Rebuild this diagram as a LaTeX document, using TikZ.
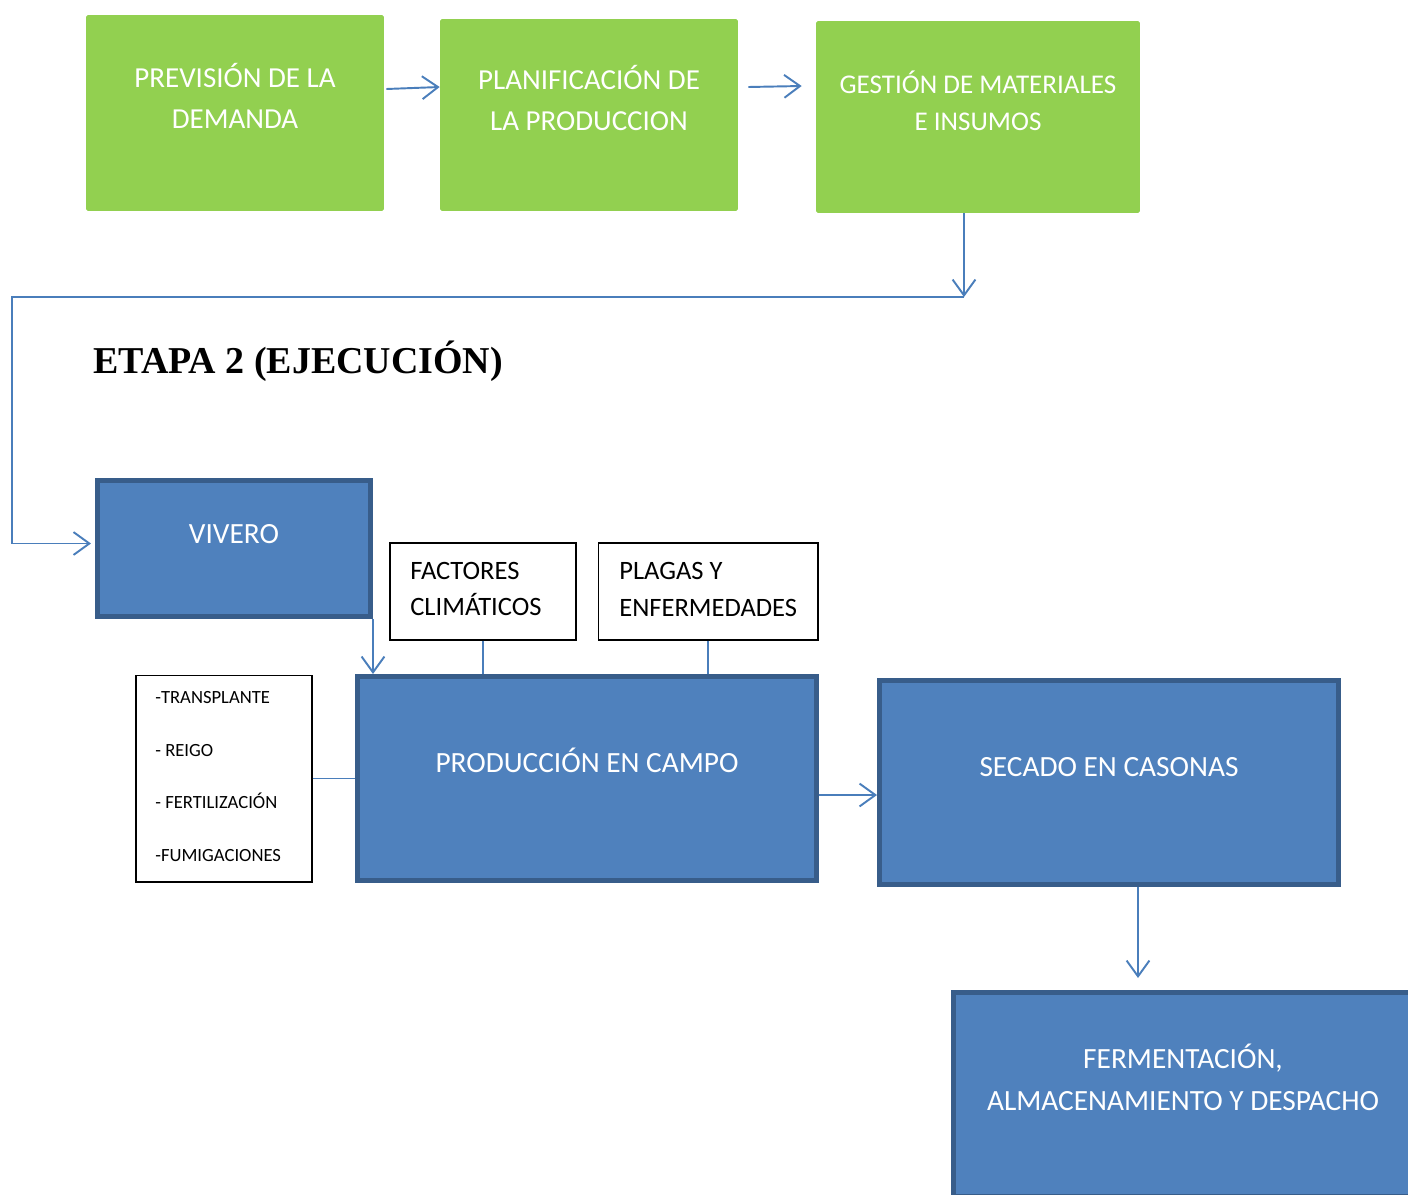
\documentclass[tikz,border=0pt]{standalone}
\usepackage{fontspec}
\setmainfont{Carlito}
\newfontfamily\titlefont{Liberation Serif}
\usetikzlibrary{arrows.meta, positioning, calc}
\definecolor{hojaverde}{HTML}{92D050}
\definecolor{azulcaja}{HTML}{4F81BD}
\definecolor{azulborde}{HTML}{385D8A}
\definecolor{azullinea}{HTML}{4A7EBB}

\begin{document}
\begin{tikzpicture}[x=0.02cm, y=-0.02cm,
    plan/.style={fill=hojaverde, rounded corners=1pt, inner sep=0pt},
    plantxt/.style={text=white, align=center, inner sep=0pt,
                    font=\fontsize{16.5}{23.2}\selectfont},
    ejec/.style={draw=azulborde, fill=azulcaja, line width=2.6pt, inner sep=0pt},
    ejectxt/.style={text=white, align=center, inner sep=0pt,
                    font=\fontsize{16.7}{23.8}\selectfont},
    nota/.style={draw, fill=white, line width=0.6pt, inner sep=0pt},
    notatxt/.style={align=left, anchor=west, inner sep=0pt,
                    font=\fontsize{15.1}{21}\selectfont},
    flujo/.style={draw=azullinea, line width=1.1pt},
    >={Straight Barb[length=9pt, width=13pt]},
]
\clip (0,0) rectangle (1408,1194);
% etapa 1: planificacion
\node[plan, minimum width=5.96cm, minimum height=3.92cm] (prev) at (235,113) {};
\node[plan, minimum width=5.96cm, minimum height=3.84cm] (planif) at (589,115) {};
\node[plan, minimum width=6.48cm, minimum height=3.84cm] (gest) at (978,117) {};
\node[plantxt] (prevt) at (235,96) {PREVISIÓN DE LA\\DEMANDA};
\node[plantxt] (planift) at (589,98) {PLANIFICACIÓN DE\\LA PRODUCCION};
\node[plantxt, font=\fontsize{15.4}{21}\selectfont] (gestt) at (978,101)
    {GESTIÓN DE MATERIALES\\E INSUMOS};
\draw[flujo,->] ($(prev.east)+(2,-24)$) -- ($(planif.west)+(0,-28)$);
\draw[flujo,->] ($(planif.east)+(10,-28)$) -- ($(gest.west)+(-14,-31)$);
\coordinate (codo) at (964,297);
\coordinate (esquina) at (12,297);
\draw[flujo,->] ($(gest.south)+(-14,0)$) -- (codo);

% etapa 2: ejecucion
\node[anchor=west, inner sep=0pt, font=\titlefont\bfseries\fontsize{21.6}{26}\selectfont]
    (etapa) at (93,361) {ETAPA 2 (EJECUCIÓN)};
\node[ejec, minimum width=5.47cm, minimum height=2.73cm] (vivero) at (234,548.5) {};
\node[ejec, minimum width=9.19cm, minimum height=4.09cm] (prod) at (587,778.5) {};
\node[ejec, minimum width=9.19cm, minimum height=4.09cm] (secado) at (1109,782.5) {};
\node[ejec, minimum width=9.19cm, minimum height=4.09cm] (ferm) at (1183,1094.5) {};
\node[ejectxt] (viverot) at (234,534) {VIVERO};
\node[ejectxt] (prodt) at (587,760) {PRODUCCIÓN EN CAMPO};
\node[ejectxt] (secadot) at (1109,767) {SECADO EN CASONAS};
\node[ejectxt] (fermt) at (1183,1077.5) {FERMENTACIÓN,\\ALMACENAMIENTO Y DESPACHO};

\node[nota, minimum width=3.72cm, minimum height=1.94cm] (factores) at (483,591.5) {};
\node[nota, minimum width=4.40cm, minimum height=1.94cm] (plagas) at (708,591.5) {};
\node[nota, minimum width=3.52cm, minimum height=4.14cm] (lista) at (224,778.5) {};
\node[notatxt] (factorest) at (410,589) {FACTORES\\CLIMÁTICOS};
\node[notatxt] (plagast) at (619,589.5) {PLAGAS Y\\ENFERMEDADES};
\node[notatxt, font=\fontsize{10.6}{30}\selectfont] (listat) at (155,776.5)
    {-TRANSPLANTE\\- REIGO\\- FERTILIZACIÓN\\-FUMIGACIONES};

\draw[flujo,->] (codo) -- (esquina) |- ($(vivero.west)+(-4,-5)$);
\draw[flujo,->] (vivero.south east) -- (vivero.south east |- prod.north);
\draw[flujo] (factores.south) -- (factores.south |- prod.north);
\draw[flujo] (plagas.south) -- (plagas.south |- prod.north);
\draw[flujo] (lista.east) -- (lista.east -| prod.west);
\draw[flujo,->] ($(prod.east)+(0,16.5)$) -- ($(secado.west)+(0,12.5)$);
\draw[flujo,->] ($(secado.south)+(29,0)$) -- ($(ferm.north)+(-45,-12)$);
\end{tikzpicture}
\end{document}
